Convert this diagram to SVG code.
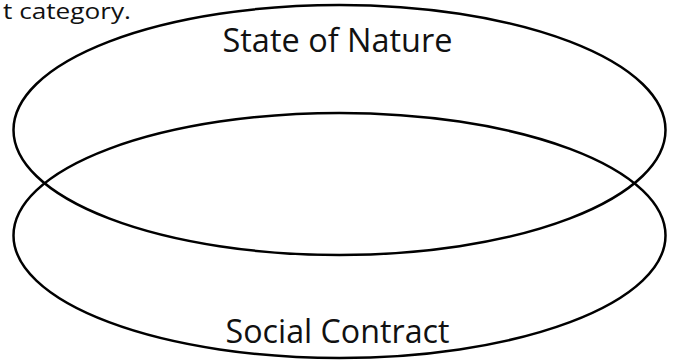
<svg xmlns="http://www.w3.org/2000/svg" width="673" height="364" viewBox="0 0 673 364">
<style>
.set{fill:none;stroke:#000;stroke-width:2.5}
.lbl{font-family:"Open Sans","Noto Sans",sans-serif;font-size:32px;fill:#111;text-anchor:middle}
.cap{font-family:"Open Sans","Noto Sans",sans-serif;font-size:21px;fill:#111}
</style>
<rect width="673" height="364" fill="#fff"/>
<text class="cap" x="3" y="19" textLength="128" lengthAdjust="spacingAndGlyphs">t category.</text>
<g id="connectors"></g>
<g id="state-of-nature">
<ellipse class="set" cx="339.5" cy="130" rx="326" ry="125"/>
<text class="lbl" x="337.5" y="52" textLength="230" lengthAdjust="spacingAndGlyphs">State of Nature</text>
</g>
<g id="social-contract">
<ellipse class="set" cx="339.5" cy="235.5" rx="326" ry="122.5"/>
<text class="lbl" x="337.5" y="343" textLength="224" lengthAdjust="spacingAndGlyphs">Social Contract</text>
</g>
</svg>
